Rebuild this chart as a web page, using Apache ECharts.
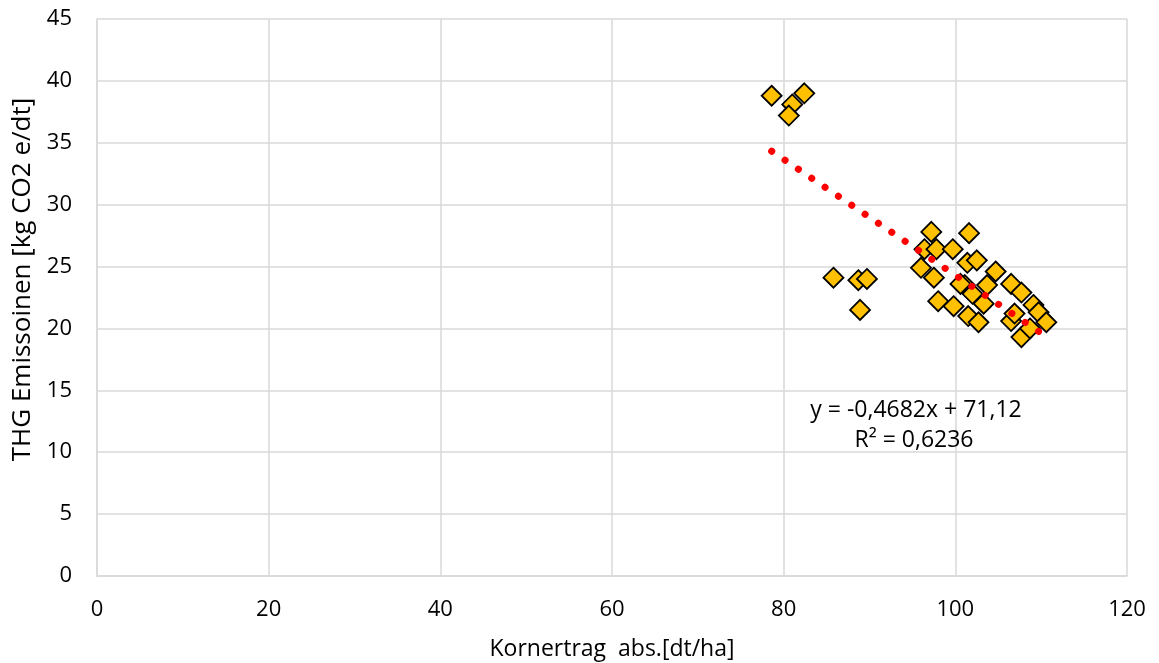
<!DOCTYPE html>
<html>
<head>
<meta charset="utf-8">
<script src="https://cdn.jsdelivr.net/npm/echarts@6/dist/echarts.min.js"></script>
<style>
html,body{margin:0;padding:0;background:#fff;}
#chart{width:1159px;height:663px;}
</style>
</head>
<body>
<div id="chart"></div>
<script>
// Kornertrag abs. [dt/ha]
const xValues = [
  78.6, 81.0, 80.6, 82.4,
  85.8, 88.7, 89.7, 88.9,
  97.2, 101.6, 96.4, 97.8, 99.7,
  96.0, 97.5, 101.4, 102.5, 104.7,
  101.1, 103.7, 102.0, 103.3, 106.5,
  107.7, 109.1, 109.7, 110.6, 98.0,
  99.8, 101.5, 102.7, 106.5, 106.9,
  107.7, 108.7, 100.6
];
// THG Emissionen [kg CO2 e/dt]
const yValues = [
  38.8, 38.1, 37.2, 39.0,
  24.1, 23.9, 24.0, 21.5,
  27.8, 27.7, 26.4, 26.4, 26.4,
  24.9, 24.1, 25.3, 25.5, 24.6,
  23.5, 23.5, 22.8, 22.0, 23.6,
  22.9, 21.9, 21.3, 20.5, 22.2,
  21.8, 21.0, 20.5, 20.6, 21.2,
  19.3, 20.0, 23.6
];
const trendSlope = -0.4682;
const trendIntercept = 71.12;
const trendLabel = ['y = -0,4682x + 71,12', 'R² = 0,6236'];
const xAxisName = 'Kornertrag  abs.[dt/ha]';
const yAxisName = 'THG Emissoinen [kg CO2 e/dt]';

const points = xValues.map((x, i) => [x, yValues[i]]);
const xMin = Math.min(...xValues), xMax = Math.max(...xValues);
const trendData = [xMin, xMax].map(x => [x, trendSlope * x + trendIntercept]);

const FONT = '"Open Sans", sans-serif';
const chart = echarts.init(document.getElementById('chart'), null, {renderer: 'canvas'});
chart.setOption({
  animation: false,
  backgroundColor: '#fff',
  grid: {left: 97, right: 32, top: 19, bottom: 87, containLabel: false, outerBoundsMode: 'none'},
  xAxis: {
    type: 'value', min: 0, max: 120, interval: 20,
    name: xAxisName, nameLocation: 'middle', nameGap: 62,
    nameTextStyle: {fontFamily: FONT, fontSize: 23, color: '#000'},
    axisLine: {show: true, lineStyle: {color: '#d9d9d9', width: 1.5}},
    axisTick: {show: false},
    axisLabel: {fontFamily: FONT, fontSize: 22, color: '#000', margin: 23},
    splitLine: {show: true, lineStyle: {color: '#d9d9d9', width: 1.5}}
  },
  yAxis: {
    type: 'value', min: 0, max: 45, interval: 5,
    name: yAxisName, nameLocation: 'middle', nameGap: 60,
    nameTextStyle: {fontFamily: FONT, fontSize: 26, color: '#000', padding: [0, 0, 0, 36]},
    axisLine: {show: true, lineStyle: {color: '#d9d9d9', width: 1.5}},
    axisTick: {show: false},
    axisLabel: {fontFamily: FONT, fontSize: 22, color: '#000', margin: 25},
    splitLine: {show: true, lineStyle: {color: '#d9d9d9', width: 1.5}}
  },
  series: [
    {
      type: 'scatter',
      data: points,
      symbol: 'diamond',
      symbolSize: 20,
      itemStyle: {color: '#FFC000', borderColor: '#000', borderWidth: 1.8, opacity: 1},
      z: 2
    },
    {
      type: 'line',
      data: trendData,
      showSymbol: false,
      symbol: 'none',
      lineStyle: {color: '#FF0000', width: 7, type: [0.1, 16], cap: 'round'},
      z: 3
    }
  ],
  graphic: [
    {type: 'text', z: 10,
      style: {text: trendLabel[0], x: 916, y: 410, align: 'center', verticalAlign: 'middle',
        font: '23px "Open Sans", sans-serif', fill: '#000'}},
    {type: 'text', z: 10,
      style: {text: trendLabel[1], x: 914, y: 440, align: 'center', verticalAlign: 'middle',
        font: '23px "Open Sans", sans-serif', fill: '#000'}}
  ]
});
</script>
</body>
</html>
